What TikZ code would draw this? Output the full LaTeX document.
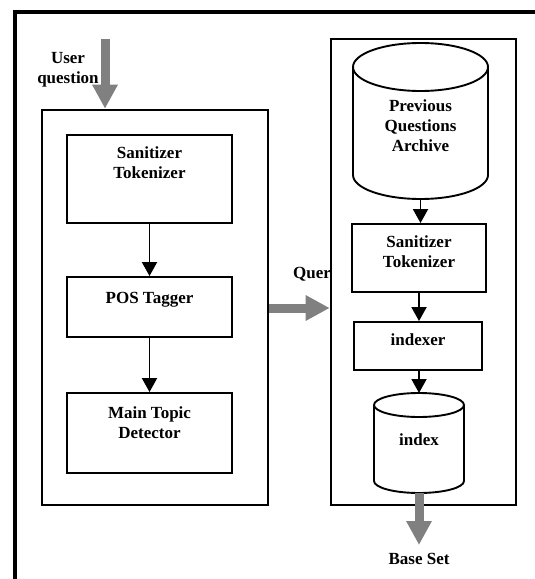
\documentclass[tikz,border=0pt]{standalone}
\usepackage{fontspec}
\setmainfont{Liberation Serif}
\usetikzlibrary{arrows.meta}
\definecolor{arrowgray}{RGB}{128,128,128}
\tikzset{
  box/.style={draw, line width=1.9bp, fill=white, inner sep=0pt},
  bigbox/.style={draw, line width=2.6bp, fill=white, inner sep=0pt},
  cyl/.style={fill=white, line width=1.9bp},
  lbl/.style={font=\fontsize{17bp}{20bp}\selectfont\bfseries, align=center, inner sep=0pt},
  garrow/.style={draw=arrowgray, line width=9bp, -{Triangle[width=24bp,length=24bp]}, arrowgray},
  barrow/.style={draw, line width=1.9bp, -{Triangle[width=15bp,length=14bp]}},
}
\begin{document}
\begin{tikzpicture}[x=1bp,y=-1bp]
\useasboundingbox (0,0) rectangle (535,579);
% outer frame (partially visible)
\coordinate (fbl) at (15,581);
\coordinate (ftl) at (15,12);
\coordinate (ftr) at (537,12);
\draw[line width=3.8bp] (fbl) -- (ftl) -- (ftr);

% left block
\node[bigbox, minimum width=226bp, minimum height=395bp] (lbox) at (155,307.5) {};
\node[box, minimum width=165bp, minimum height=88bp] (st1) at (149.5,179) {};
\node[lbl, anchor=north] (st1t) at (149.5,147) {Sanitizer\\Tokenizer};
\node[box, minimum width=165bp, minimum height=60bp] (pos) at (149.5,307) {};
\node[lbl, anchor=base] (post) at (149.5,303) {POS Tagger};
\node[box, minimum width=165bp, minimum height=80bp] (mtd) at (149.5,433) {};
\node[lbl, anchor=north] (mtdt) at (149.5,406) {Main Topic\\Detector};
\draw[barrow] (st1.south) -- (pos.north);
\draw[barrow] (pos.south) -- (mtd.north);

% user question
\node[lbl, anchor=north] (uqt) at (68,52.5) {User\\question};
\coordinate (uq) at (105,39);
\draw[garrow] (uq) -- (uq |- lbox.north);

% right block
\node[bigbox, minimum width=185bp, minimum height=466bp] (rbox) at (423.5,272) {};
% cylinder 1
\coordinate (c1b) at (420.5,199);
\filldraw[cyl] (353,67) -- (353,175) arc[start angle=180, end angle=360, x radius=67.5bp, y radius=24bp] -- (488,67);
\draw[cyl] (420.5,67) ellipse[x radius=67.5bp, y radius=24bp];
\node[lbl, anchor=north] (pqa) at (420.5,99.5) {Previous\\Questions\\Archive};
\node[box, minimum width=134bp, minimum height=68bp] (st2) at (419,258) {};
\node[lbl, anchor=north] (st2t) at (419,236) {Sanitizer\\Tokenizer};
\node[box, minimum width=128bp, minimum height=48bp] (idx) at (418,346) {};
\node[lbl, anchor=base] (idxt) at (418,345.5) {indexer};
% cylinder 2
\coordinate (c2t) at (419,393);
\coordinate (c2b) at (419,493);
\filldraw[cyl] (374,405) -- (374,481) arc[start angle=180, end angle=360, x radius=45bp, y radius=12bp] -- (464,405);
\draw[cyl] (419,405) ellipse[x radius=45bp, y radius=12bp];
\node[lbl, anchor=base] (ixt) at (419,445) {index};
\draw[barrow] (c1b |- 0,199) -- (c1b |- st2.north);
\draw[barrow] (st2.south) -- (st2.south |- idx.north);
\draw[barrow] (st2.south |- idx.south) -- (c2t);

% query
\node[lbl, anchor=base west] (qt) at (293,278) {Quer};
\coordinate (qy) at (300,308);
\draw[garrow] (qy -| lbox.east) -- (qy -| rbox.west);

% base set
\coordinate (bs) at (419,545);
\draw[garrow] (c2b) -- (bs);
\node[lbl, anchor=base] (bst) at (419,564) {Base Set};
\end{tikzpicture}
\end{document}
